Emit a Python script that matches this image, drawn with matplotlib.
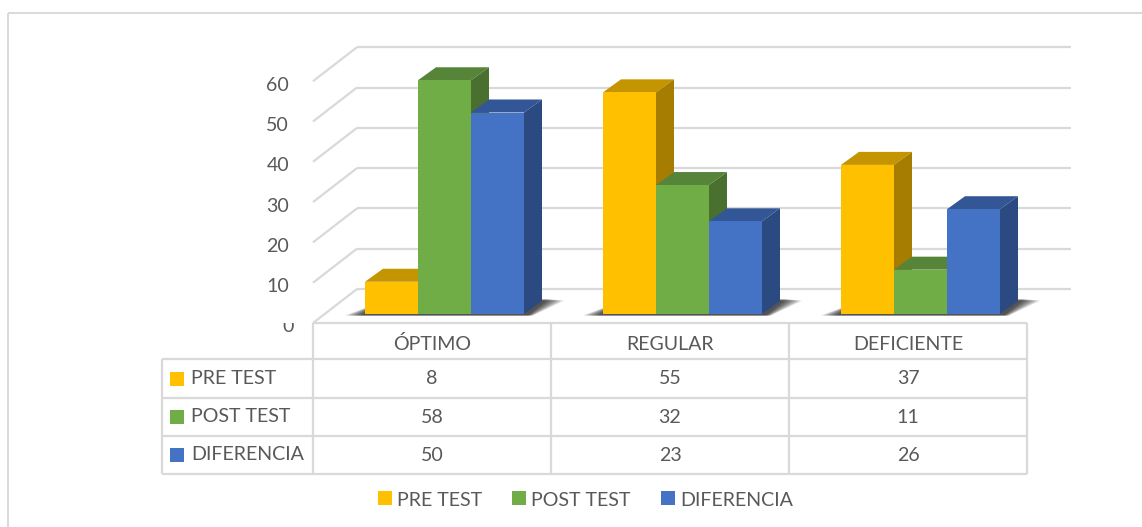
import matplotlib
matplotlib.use("Agg")
import matplotlib.pyplot as plt
from matplotlib.patches import Polygon, Rectangle
from matplotlib.transforms import Bbox

categories = ["ÓPTIMO", "REGULAR", "DEFICIENTE"]
series_names = ["PRE TEST", "POST TEST", "DIFERENCIA"]
pre_test = [8, 55, 37]
post_test = [58, 32, 11]
diferencia = [50, 23, 26]
y_ticks = [0, 10, 20, 30, 40, 50, 60]

front_colors = ["#FFC000", "#70AD47", "#4472C4"]
top_colors = ["#C49500", "#56853A", "#335796"]
side_colors = ["#A67D00", "#4A7030", "#2B4A82"]
grid_color = "#D9D9D9"
text_color = "#595959"

# pixel layout of the pseudo 3d plot
PLOT_LEFT = 313
FLOOR_Y = 323
UNIT = 4.03
WALL_DX = 44
WALL_DY = 34
WALL_RIGHT = 1071
COL_W = 238
BAR_W = 53
BAR_FLOOR = 314
DEPTH_X = 18
DEPTH_Y = 13
FONT = "Lato"
FS = 14.1

fig = plt.figure(figsize=(11.42, 5.27), dpi=100)
ax = fig.add_axes([0, 0, 1, 1])
ax.set_xlim(0, 1142)
ax.set_ylim(527, 0)
ax.axis("off")


def line(xs, ys, lw=1.6, z=1):
  ax.plot(xs, ys, color=grid_color, lw=lw, solid_capstyle="butt", zorder=z)


def label(x, y, s, ha="center", **kw):
  return ax.text(x, y, s, ha=ha, va="center", family=FONT, fontsize=FS,
                 color=text_color, zorder=10, **kw)


def draw_shadow(x0, x1):
  # soft shadow on the floor, stacked layers make the fade
  for i in range(12):
    grow = i * 1.5
    ax.add_patch(Polygon([(x0 - 4 - grow, BAR_FLOOR + 1.5), (x1 + 4 + grow * 0.3, BAR_FLOOR + 1.5),
                          (x1 + 24 + grow, BAR_FLOOR - 15 + i * 0.15), (x0 + 20, BAR_FLOOR - 15 + i * 0.15)],
                         closed=True, fc="black", ec="none", alpha=0.085, zorder=2))


def draw_bar(x, value, s):
  top = BAR_FLOOR - value * UNIT
  ax.add_patch(Polygon([(x, top), (x + BAR_W, top),
                        (x + BAR_W + DEPTH_X, top - DEPTH_Y), (x + DEPTH_X, top - DEPTH_Y)],
                       closed=True, fc=top_colors[s], ec="none", zorder=3 + s))
  ax.add_patch(Polygon([(x + BAR_W, top), (x + BAR_W + DEPTH_X, top - DEPTH_Y),
                        (x + BAR_W + DEPTH_X, BAR_FLOOR - DEPTH_Y), (x + BAR_W, BAR_FLOOR)],
                       closed=True, fc=side_colors[s], ec="none", zorder=3 + s))
  ax.add_patch(Rectangle((x, top), BAR_W, BAR_FLOOR - top, fc=front_colors[s], ec="none",
                         zorder=3 + s))


def main():
  # outer frame, only left and top are visible in the picture
  line([8, 8], [527, 13], lw=1.4)
  line([8, 1142], [13, 13], lw=1.4)

  # walls and gridlines
  for t in y_ticks:
    fy = FLOOR_Y - t * UNIT
    line([PLOT_LEFT, PLOT_LEFT + WALL_DX], [fy, fy - WALL_DY])
    line([PLOT_LEFT + WALL_DX, WALL_RIGHT], [fy - WALL_DY, fy - WALL_DY])
    if t > 0:
      label(289, fy + 4, str(t), ha="right")
    else:
      zero = label(294, fy + 4, str(t), ha="right")
      # bottom axis label is cut by the table in the original
      zero.set_clip_box(Bbox([[270, 527 - 337], [300, 527 - 323]]))
      zero.set_clip_on(True)

  # bars
  series = [pre_test, post_test, diferencia]
  starts = [365, 603, 841]
  for c in range(len(categories)):
    draw_shadow(starts[c], starts[c] + BAR_W * len(series))
    for s in range(len(series)):
      draw_bar(starts[c] + s * BAR_W, series[s][c], s)

  # data table
  rows = [323, 359, 398, 436, 474]
  cols = [162, PLOT_LEFT, PLOT_LEFT + COL_W, PLOT_LEFT + 2 * COL_W, PLOT_LEFT + 3 * COL_W]
  line([PLOT_LEFT, cols[-1]], [rows[0], rows[0]], lw=1.6, z=9)
  for r in rows[1:]:
    line([cols[0], cols[-1]], [r, r], lw=1.6, z=9)
  line([cols[0], cols[0]], [rows[1], rows[-1]], lw=1.6, z=9)
  for cx in cols[1:]:
    line([cx, cx], [rows[0], rows[-1]], lw=1.6, z=9)

  for c, name in enumerate(categories):
    label((cols[c + 1] + cols[c + 2]) / 2, (rows[0] + rows[1]) / 2 + 3, name)
  for s, name in enumerate(series_names):
    cy = (rows[s + 1] + rows[s + 2]) / 2
    ax.add_patch(Rectangle((170, cy - 7), 14, 14, fc=front_colors[s], ec="none", zorder=10))
    label(191, cy, name, ha="left")
    for c in range(len(categories)):
      label((cols[c + 1] + cols[c + 2]) / 2, cy + 0.5, str(series[s][c]))

  # legend
  leg_x = [378, 512, 661]
  for s, name in enumerate(series_names):
    ax.add_patch(Rectangle((leg_x[s], 491), 14, 14, fc=front_colors[s], ec="none", zorder=10))
    label(leg_x[s] + 19, 500, name, ha="left")

  fig.savefig("out.png", dpi=100)


if __name__ == "__main__":
  main()
